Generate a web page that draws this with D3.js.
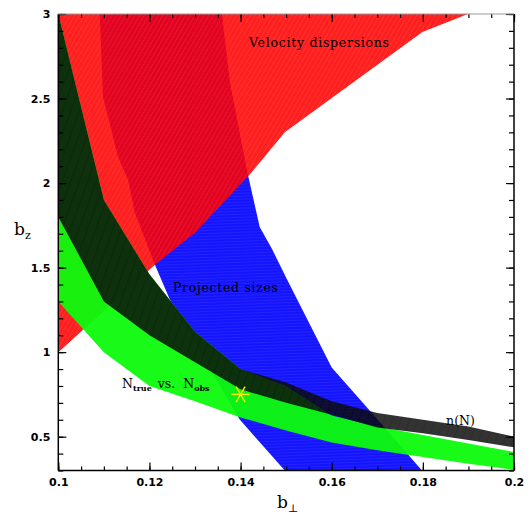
<!DOCTYPE html>
<html><head><meta charset="utf-8">
<script src="https://cdn.jsdelivr.net/npm/d3@7"></script>
<style>body{margin:0;background:#fff}</style>
</head><body><svg id="c" width="531" height="514"></svg>
<script>
// ---------- data ----------
const bPerpGrid = [0.10,0.11,0.12,0.13,0.14,0.15,0.16,0.17,0.18,0.19,0.20];
// n(N) band
const nUpper = [3.00,1.90,1.46,1.12,0.90,0.82,0.71,0.64,0.60,0.56,0.50];
const nLower = [1.80,1.30,1.10,0.94,0.78,0.70,0.63,0.555,0.52,0.48,0.437];
// N_true vs N_obs band
const ntUpper = [3.00,1.90,1.46,1.12,0.90,0.80,0.625,0.56,0.51,0.46,0.41];
const ntLower = [1.30,1.00,0.80,0.71,0.614,0.537,0.466,0.42,0.38,0.34,0.305];
// Projected sizes (left & right edges, top to bottom)
const sizesLeftX  = [0.1091,0.1098,0.1131,0.1153,0.1168,0.1212,0.1245,0.1398,0.1497];
const sizesLeftY  = [3.00,2.51,2.155,2.02,1.825,1.517,1.31,0.602,0.30];
const sizesRightX = [0.1359,0.1377,0.1416,0.1442,0.1469,0.1502,0.1600,0.1691,0.1798];
const sizesRightY = [3.00,2.59,2.05,1.74,1.61,1.43,0.909,0.631,0.30];
// Velocity dispersions (outline)
const velX = [0.100,0.100,0.1899,0.1799,0.1497,0.1420,0.1300,0.1212,0.100];
const velY = [1.00,3.00,3.00,2.894,2.30,2.05,1.706,1.517,1.00];
// best-fit point
const bestX = [0.14], bestY = [0.75];
// ticks
const xMajorTicks = [0.10,0.12,0.14,0.16,0.18,0.20];
const xTickLabels = ["0.1","0.12","0.14","0.16","0.18","0.2"];
const xMinorTicks = d3.range(0,21).map(i=>+(0.1+i*0.005).toFixed(3));
const yMajorTicks = [0.5,1,1.5,2,2.5,3];
const yTickLabels = ["0.5","1","1.5","2","2.5","3"];
const yMinorTicks = d3.range(3,31).map(i=>+(i*0.1).toFixed(1));

// ---------- setup ----------
const svg = d3.select('#c');
const x = d3.scaleLinear().domain([0.1,0.2]).range([58.3,514]);
const y = d3.scaleLinear().domain([0.3,3]).range([470.5,14]);
const defs = svg.append('defs');
defs.append('clipPath').attr('id','clip').append('rect')
  .attr('x',x(0.1)).attr('y',y(3)).attr('width',x(0.2)-x(0.1)).attr('height',y(0.3)-y(3));

function hatch(id, base, line, w, h, angle, sw){
  const p = defs.append('pattern').attr('id',id).attr('patternUnits','userSpaceOnUse')
    .attr('width',w).attr('height',h).attr('patternTransform',`rotate(${angle})`);
  p.append('rect').attr('width',w).attr('height',h).attr('fill',base);
  p.append('line').attr('x1',0).attr('y1',0).attr('x2',0).attr('y2',h).attr('stroke',line).attr('stroke-width',sw);
}
hatch('pRed','#ff0000','#ff2c2c',4,4,30,1);
hatch('pBlue','#1414ff','#3434ff',3,3,88,1);
hatch('pGreen','#08ff08','#22e622',3,3,35,1);
hatch('pBlack','#0c0c0c','#000000',8,8,20,1.2);

const g = svg.append('g').attr('clip-path','url(#clip)');
const line = d3.line().x(d=>x(d[0])).y(d=>y(d[1]));
const band = (up, lo) => line(bPerpGrid.map((b,i)=>[b,up[i]]).concat(bPerpGrid.map((b,i)=>[b,lo[i]]).reverse())) + 'Z';

// Projected sizes
const sizesPoly = sizesLeftX.map((v,i)=>[v,sizesLeftY[i]])
  .concat(sizesRightX.map((v,i)=>[v,sizesRightY[i]]).reverse());
g.append('path').attr('d', line(sizesPoly)+'Z').attr('fill','url(#pBlue)');
// Velocity dispersions
g.append('path').attr('d', line(velX.map((v,i)=>[v,velY[i]]))+'Z').attr('fill','url(#pRed)').attr('opacity',0.88);
// N_true vs N_obs
g.append('path').attr('d', band(ntUpper, ntLower)).attr('fill','url(#pGreen)').attr('opacity',0.95);
// n(N)
g.append('path').attr('d', band(nUpper, nLower)).attr('fill','url(#pBlack)').attr('opacity',0.84);

// ---------- axes ----------
const fmtX = d => xTickLabels[xMajorTicks.indexOf(d)];
const fmtY = d => yTickLabels[yMajorTicks.indexOf(d)];
const axStyle = sel => { sel.selectAll('text').attr('font-family','DejaVu Sans, sans-serif').attr('font-size',11)
    .attr('font-weight','bold').attr('fill','#000');
  sel.selectAll('line').attr('stroke','#000').attr('stroke-width',1.2); sel.select('.domain').remove(); };

svg.append('g').attr('transform',`translate(0,${y(0.3)})`)
  .call(d3.axisBottom(x).tickValues(xMinorTicks).tickSize(-4).tickFormat('')).call(axStyle);
svg.append('g').attr('transform',`translate(0,${y(0.3)})`)
  .call(d3.axisBottom(x).tickValues(xMajorTicks).tickSize(-8).tickPadding(8).tickFormat(fmtX)).call(axStyle);
svg.append('g').attr('transform',`translate(0,${y(3)})`)
  .call(d3.axisTop(x).tickValues(xMinorTicks).tickSize(-4).tickFormat('')).call(axStyle);
svg.append('g').attr('transform',`translate(0,${y(3)})`)
  .call(d3.axisTop(x).tickValues(xMajorTicks).tickSize(-8).tickFormat('')).call(axStyle);

svg.append('g').attr('transform',`translate(${x(0.1)},0)`)
  .call(d3.axisLeft(y).tickValues(yMinorTicks).tickSize(-5).tickFormat('')).call(axStyle);
svg.append('g').attr('transform',`translate(${x(0.1)},0)`)
  .call(d3.axisLeft(y).tickValues(yMajorTicks).tickSize(-8).tickPadding(8).tickFormat(fmtY)).call(axStyle);
svg.append('g').attr('transform',`translate(${x(0.2)},0)`)
  .call(d3.axisRight(y).tickValues(yMinorTicks).tickSize(-5).tickFormat('')).call(axStyle);
svg.append('g').attr('transform',`translate(${x(0.2)},0)`)
  .call(d3.axisRight(y).tickValues(yMajorTicks).tickSize(-8).tickFormat('')).call(axStyle);

// frame
svg.append('line').attr('x1',x(0.1)).attr('x2',x(0.2)).attr('y1',y(0.3)).attr('y2',y(0.3)).attr('stroke','#000').attr('stroke-width',1.5);
svg.append('line').attr('x1',x(0.1)).attr('x2',x(0.1)).attr('y1',y(0.3)).attr('y2',y(3)).attr('stroke','#000').attr('stroke-width',1.5);
svg.append('line').attr('x1',x(0.2)).attr('x2',x(0.2)).attr('y1',y(0.3)).attr('y2',y(3)).attr('stroke','#000').attr('stroke-width',1.5);
svg.append('line').attr('x1',x(0.1)).attr('x2',x(0.2)).attr('y1',y(3)).attr('y2',y(3)).attr('stroke','#999').attr('stroke-width',1);

// best-fit asterisk
const star = svg.append('g').selectAll('g').data(bestX.map((v,i)=>[v,bestY[i]])).join('g')
  .attr('transform',d=>`translate(${x(d[0])},${y(d[1])})`);
[0,60,120].forEach(a=>{
  star.append('line').attr('x1',-9*Math.cos(a*Math.PI/180)).attr('y1',-9*Math.sin(a*Math.PI/180))
    .attr('x2',9*Math.cos(a*Math.PI/180)).attr('y2',9*Math.sin(a*Math.PI/180))
    .attr('stroke','#ffee00').attr('stroke-width',1.4);
});

// ---------- labels ----------
const serif = 'DejaVu Serif, Liberation Serif, serif';
svg.append('text').attr('x',249).attr('y',47).attr('font-family',serif).attr('font-size',12.5)
  .attr('textLength',140).attr('lengthAdjust','spacing').text('Velocity dispersions');
svg.append('text').attr('x',173).attr('y',292).attr('font-family',serif).attr('font-size',12.5)
  .attr('textLength',105).attr('lengthAdjust','spacing').text('Projected sizes');
svg.append('text').attr('x',446).attr('y',425).attr('font-family',serif).attr('font-size',12.5)
  .attr('textLength',29).attr('lengthAdjust','spacing').text('n(N)');
const nt = svg.append('text').attr('x',122).attr('y',388).attr('font-family',serif).attr('font-size',12.5);
nt.append('tspan').text('N');
nt.append('tspan').attr('font-size',8).attr('dy',3).attr('font-weight','bold').text('true');
nt.append('tspan').attr('dy',-3).attr('dx',6).text('vs.');
nt.append('tspan').attr('dx',8).text('N');
nt.append('tspan').attr('font-size',8).attr('dy',3).attr('font-weight','bold').text('obs');

const yl = svg.append('text').attr('x',14).attr('y',235).attr('font-family',serif).attr('font-size',17);
yl.append('tspan').text('b');
yl.append('tspan').attr('font-size',11).attr('dy',4).text('z');
const xl = svg.append('text').attr('x',277).attr('y',508).attr('font-family',serif).attr('font-size',17);
xl.append('tspan').text('b');
xl.append('tspan').attr('font-size',11).attr('dy',4).text('⊥');
</script></body></html>
